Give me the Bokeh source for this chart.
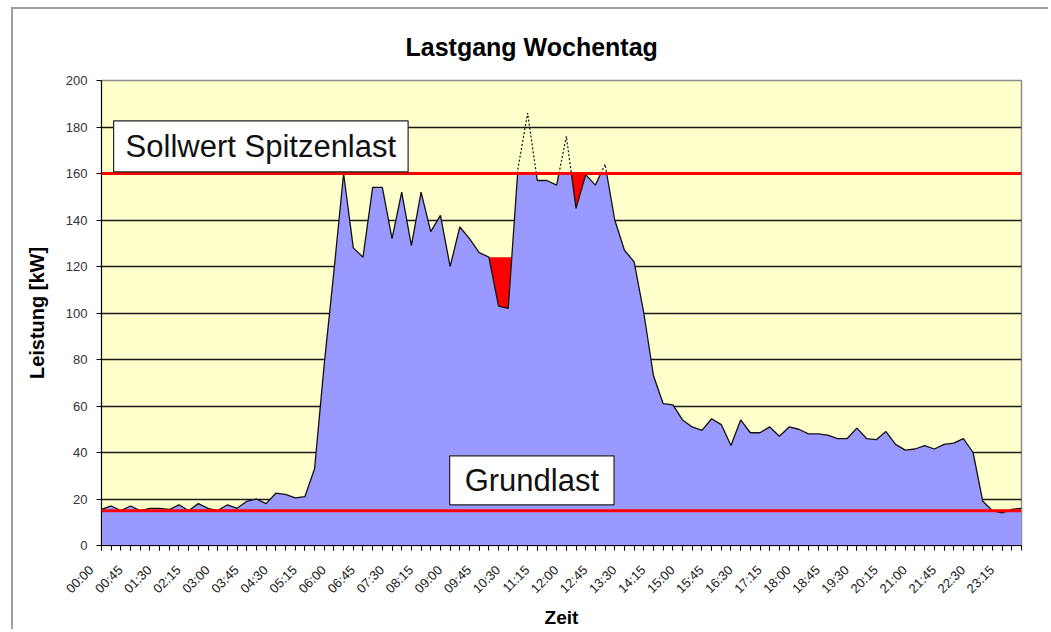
import numpy as np
from bokeh.plotting import figure
from bokeh.models import FixedTicker, Label, Span, Range1d
from bokeh.embed import file_html
from bokeh.resources import INLINE
from math import pi

# ---- data -------------------------------------------------------------
times = [f"{h:02d}:{m:02d}" for h in range(24) for m in (0, 15, 30, 45)]

load = [
    15.5, 17, 15, 17, 15, 16, 16, 15.5, 17.5, 15, 18, 16,
    15, 17.5, 16, 19, 20, 18, 22.5, 22, 20.5, 21, 33, 78,
    118, 160, 128, 124, 154, 154, 132, 152, 129, 152, 135, 142,
    120, 137, 132, 126, 124, 103, 102, 162, 186, 157, 157, 155,
    176, 145, 159.5, 155, 164, 140, 127, 122, 100, 73, 61, 60.5,
    54, 51, 49.5, 54.5, 52, 43, 54, 48.5, 48.5, 51, 47, 51,
    50, 48, 48, 47.5, 46, 46, 50.5, 46, 45.5, 49, 43.5, 41,
    41.5, 43, 41.5, 43.5, 44, 46, 40, 19, 15, 14, 15.5, 16,
]

peak_limit = 160      # Sollwert Spitzenlast
base_load = 15        # Grundlast

# red "shifted load" zones: first index, last index, level
zone_first = [40, 49]
zone_last = [42, 50]
zone_level = [124, 160]

y_ticks = list(range(0, 201, 20))
label_step = 3

# ---- helpers ----------------------------------------------------------
n = len(load)
idx = np.arange(n)


def densify(vals, level):
    xs, ys = [], []
    for i in range(len(vals)):
        if i > 0:
            y0, y1 = vals[i - 1], vals[i]
            if (y0 - level) * (y1 - level) < 0:
                t = (level - y0) / (y1 - y0)
                xs.append(i - 1 + t)
                ys.append(level)
        xs.append(float(i))
        ys.append(vals[i])
    return np.array(xs), np.array(ys)


dx, dy = densify(load, peak_limit)

# split the outline in runs below / above the peak limit
solid_x, solid_y, dot_x, dot_y = [], [], [], []
cur_x, cur_y, cur_above = [dx[0]], [dy[0]], None
for k in range(len(dx) - 1):
    above = (dy[k] + dy[k + 1]) / 2 > peak_limit
    if cur_above is None:
        cur_above = above
    if above != cur_above:
        (dot_x if cur_above else solid_x).append(cur_x)
        (dot_y if cur_above else solid_y).append(cur_y)
        cur_x, cur_y = [dx[k]], [dy[k]]
        cur_above = above
    cur_x.append(dx[k + 1])
    cur_y.append(dy[k + 1])
(dot_x if cur_above else solid_x).append(cur_x)
(dot_y if cur_above else solid_y).append(cur_y)

# ---- figure -----------------------------------------------------------
FONT = "Liberation Sans"

p = figure(
    width=1037, height=622,
    x_range=Range1d(0, n - 1), y_range=Range1d(0, 200),
    output_backend="svg", toolbar_location=None,
    min_border_left=88, min_border_right=29,
    min_border_top=71, min_border_bottom=83,
    title="Lastgang Wochentag",
)
p.styles = {"margin-left": "11px", "margin-top": "7px",
            "border-left": "2px solid #a0a0a0", "border-top": "2px solid #a0a0a0"}
p.background_fill_color = "#FFFFCC"
p.border_fill_color = "white"
p.outline_line_color = "#8c8c8c"
p.outline_line_width = 1.5

p.title.text_font = FONT
p.title.text_font_size = "25px"
p.title.text_font_style = "bold"
p.title.text_color = "black"
p.title.align = "left"
p.title.offset = 304
p.title.vertical_align = "top"
p.title.standoff = 36

# area clipped at the peak limit
p.varea(x=dx, y1=0, y2=np.minimum(dy, peak_limit), fill_color="#9999FF")

# red zones
for first, last, level in zip(zone_first, zone_last, zone_level):
    zx = []
    if first > 0 and load[first - 1] > level:
        zx.append(first - 1 + (level - load[first - 1]) / (load[first] - load[first - 1]))
    zx += list(range(first, last + 1))
    if last < n - 1 and load[last + 1] > level:
        zx.append(last + (level - load[last]) / (load[last + 1] - load[last]))
    zy = np.interp(zx, idx, load)
    p.varea(x=zx, y1=zy, y2=np.full(len(zx), level), fill_color="#FF0000")

# outline
p.multi_line(xs=solid_x, ys=solid_y, line_color="#111111", line_width=1.3)
p.multi_line(xs=dot_x, ys=dot_y, line_color="#111111", line_width=1.2, line_dash="2 2")

# reference lines
for lvl in (peak_limit, base_load):
    p.add_layout(Span(location=lvl, dimension="width", line_color="#FF0000", line_width=3))

# text boxes
p.add_layout(Label(x=1.25, y=160.7, text="Sollwert Spitzenlast", anchor="bottom_left",
                   text_font=FONT, text_font_size="31px", text_color="#111111",
                   background_fill_color="white", border_line_color="#222222",
                   border_line_width=1.2, padding=(12, 8)))
p.add_layout(Label(x=35.95, y=17.5, text="Grundlast", anchor="bottom_left",
                   text_font=FONT, text_font_size="31px", text_color="#111111",
                   background_fill_color="white", border_line_color="#222222",
                   border_line_width=1.2, padding=(15, 7)))

# grid
p.xgrid.grid_line_color = None
p.ygrid.ticker = FixedTicker(ticks=y_ticks)
p.ygrid.grid_line_color = "#1a1a1a"
p.ygrid.grid_line_width = 1.3

# y axis
ya = p.yaxis[0]
ya.ticker = FixedTicker(ticks=y_ticks)
ya.axis_label = "Leistung [kW]"
ya.axis_label_text_font = FONT
ya.axis_label_text_font_size = "20px"
ya.axis_label_text_font_style = "bold"
ya.axis_label_text_color = "black"
ya.axis_label_standoff = 15
ya.major_label_text_font = FONT
ya.major_label_text_font_size = "13px"
ya.major_label_text_color = "#333333"
ya.major_label_standoff = 9
ya.major_tick_in = 0
ya.major_tick_out = 5
ya.minor_tick_out = 0
ya.minor_tick_in = 0
ya.axis_line_color = "black"
ya.major_tick_line_color = "black"

# x axis; the trailing no-break spaces move each slanted label a little
# down-left of its tick, as in the original spreadsheet chart
PAD = "\u00a0" * 4
xa = p.xaxis[0]
label_ticks = list(range(0, n, label_step))
xa.ticker = FixedTicker(ticks=label_ticks, minor_ticks=list(range(n)))
xa.major_label_overrides = {i: times[i] + PAD for i in label_ticks}
xa.major_label_orientation = pi / 4
xa.major_label_text_font = FONT
xa.major_label_text_font_size = "13px"
xa.major_label_text_color = "#1a1a1a"
xa.major_label_standoff = 7
xa.major_tick_in = 0
xa.major_tick_out = 5
xa.minor_tick_in = 0
xa.minor_tick_out = 5
xa.minor_tick_line_color = "black"
xa.major_tick_line_color = "black"
xa.axis_line_color = "black"
xa.axis_label = "Zeit"
xa.axis_label_text_font = FONT
xa.axis_label_text_font_size = "19px"
xa.axis_label_text_font_style = "bold"
xa.axis_label_text_color = "black"
xa.axis_label_standoff = 3

open("out.html", "w").write(file_html(p, INLINE))
